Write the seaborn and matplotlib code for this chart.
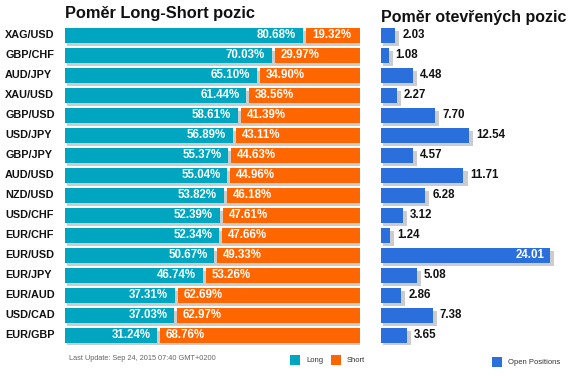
import matplotlib
matplotlib.use("Agg")
import matplotlib.pyplot as plt
import numpy as np
import pandas as pd
import seaborn as sns
from matplotlib.patches import Rectangle

pairs = ["XAG/USD", "GBP/CHF", "AUD/JPY", "XAU/USD", "GBP/USD", "USD/JPY", "GBP/JPY", "AUD/USD",
         "NZD/USD", "USD/CHF", "EUR/CHF", "EUR/USD", "EUR/JPY", "EUR/AUD", "USD/CAD", "EUR/GBP"]
long_pct = [80.68, 70.03, 65.10, 61.44, 58.61, 56.89, 55.37, 55.04,
            53.82, 52.39, 52.34, 50.67, 46.74, 37.31, 37.03, 31.24]
short_pct = [19.32, 29.97, 34.90, 38.56, 41.39, 43.11, 44.63, 44.96,
             46.18, 47.61, 47.66, 49.33, 53.26, 62.69, 62.97, 68.76]
open_pos = [2.03, 1.08, 4.48, 2.27, 7.70, 12.54, 4.57, 11.71,
            6.28, 3.12, 1.24, 24.01, 5.08, 2.86, 7.38, 3.65]

TEAL = "#00a6bf"
ORANGE = "#ff6600"
BLUE = "#2a6fdb"
SHADOW = "#cccccc"

W, H = 585, 376
sns.set_theme(style="white")
plt.rcParams["font.family"] = ["Liberation Sans", "DejaVu Sans"]

df = pd.DataFrame({"pair": pairs, "long": long_pct, "short": short_pct, "open": open_pos})
n = len(df)
pos = np.arange(n)

fig = plt.figure(figsize=(W / 100, H / 100), dpi=100)
fig.patch.set_facecolor("white")


def px_rect(x0, x1, y_top, y_bot):
    return [x0 / W, (H - y_bot) / H, (x1 - x0) / W, (y_bot - y_top) / H]


# left panel: 0..100 -> 65..360 px
ax1 = fig.add_axes(px_rect(65, 360, 25, 345))
sns.barplot(data=df, y="pair", x="long", color=TEAL, saturation=1, orient="h",
            width=0.75, ax=ax1, zorder=2, linewidth=0, edgecolor="none")
ax1.barh(pos, df["short"], left=df["long"] + 1, height=0.75, color=ORANGE,
         zorder=2, linewidth=0)
ax1.barh(pos + 0.15, df["long"] + df["short"] + 0.7, left=0.7, height=0.75,
         color=SHADOW, zorder=1, linewidth=0)
for i, row in df.iterrows():
    ax1.text(row["long"] - 2.3, i + 0.02, f"{row['long']:.2f}%", color="white",
             fontsize=8.3, fontweight="bold", ha="right", va="center", zorder=3)
    ax1.text(row["long"] + 3, i + 0.02, f"{row['short']:.2f}%", color="white",
             fontsize=8.3, fontweight="bold", ha="left", va="center", zorder=3)
    ax1.text(-60 / 2.95, i, row["pair"], color="#111111", fontsize=7.8,
             fontweight="bold", ha="left", va="center", clip_on=False)
ax1.set_xlim(0, 100)
ax1.set_ylim(n - 0.5, -0.5)

# right panel: 7.04 px per unit starting at 381 px
ax2 = fig.add_axes(px_rect(381, 583, 25, 345))
sns.barplot(data=df, y="pair", x="open", color=BLUE, saturation=1, orient="h",
            width=0.75, ax=ax2, zorder=2, linewidth=0, edgecolor="none")
ax2.barh(pos + 0.15, df["open"] + 0.3, left=0.28, height=0.75, color=SHADOW,
         zorder=1, linewidth=0)
for i, v in enumerate(df["open"]):
    if v > 20:
        ax2.text(v - 0.7, i + 0.02, f"{v:.2f}", color="white", fontsize=8.3,
                 fontweight="bold", ha="right", va="center", zorder=3)
    else:
        ax2.text(v + 1.0, i + 0.02, f"{v:.2f}", color="#111111", fontsize=8.3,
                 fontweight="bold", ha="left", va="center", zorder=3)
ax2.set_xlim(0, 202 / 7.04)
ax2.set_ylim(n - 0.5, -0.5)

for ax in (ax1, ax2):
    ax.set_facecolor("none")
    ax.set_xlabel("")
    ax.set_ylabel("")
    ax.set_xticks([])
    ax.set_yticks([])
    sns.despine(ax=ax, left=True, bottom=True)

fig.text(65 / W, 1 - 18 / H, "Poměr Long-Short pozic", fontsize=11.8,
         fontweight="bold", color="#111111", ha="left", va="baseline")
fig.text(381 / W, 1 - 22 / H, "Poměr otevřených pozic", fontsize=11.5,
         fontweight="bold", color="#111111", ha="left", va="baseline")

fig.text(69 / W, 1 - 358 / H, "Last Update: Sep 24, 2015 07:40 GMT+0200",
         fontsize=5.3, color="#666666", ha="left", va="center")

legend_items = [(290, 355, TEAL, "Long"), (331, 355, ORANGE, "Short"),
                (492, 357, BLUE, "Open Positions")]
for x0, y0, col, label in legend_items:
    fig.add_artist(Rectangle((x0 / W, 1 - (y0 + 10) / H), 10 / W, 10 / H,
                             transform=fig.transFigure, color=col, linewidth=0))
    fig.text((x0 + 16) / W, 1 - (y0 + 5) / H, label, fontsize=5.5,
             color="#333333", ha="left", va="center")

fig.savefig("out.png", dpi=100)
